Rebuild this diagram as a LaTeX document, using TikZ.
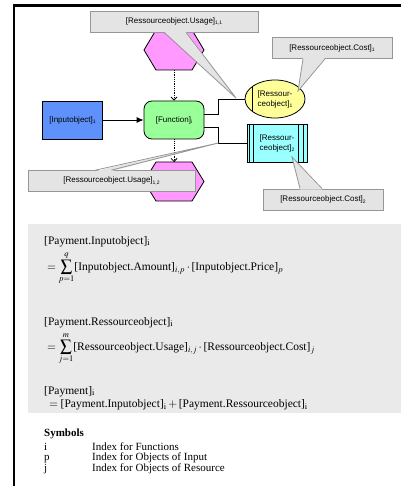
\documentclass[tikz,border=0pt]{standalone}
\usepackage{amsmath}
\usepackage{mathptmx}
\usepackage[no-math]{fontspec}
\setmainfont{Liberation Serif}
\newfontfamily\diafont{Liberation Sans}
\usetikzlibrary{positioning,calc,arrows.meta,shapes.geometric}
\definecolor{fnGreen}{RGB}{153,255,153}
\definecolor{inBlue}{RGB}{95,145,250}
\definecolor{resYellow}{RGB}{255,255,153}
\definecolor{resCyan}{RGB}{153,255,255}
\definecolor{usePink}{RGB}{255,153,255}
\definecolor{noteGray}{RGB}{228,228,228}
\definecolor{noteLine}{RGB}{150,150,150}
\definecolor{panelGray}{RGB}{234,234,234}
\newcommand\dsub[1]{\raisebox{-0.35ex}{\fontsize{5}{5}\selectfont #1}}

\begin{document}
\begin{tikzpicture}[x=1pt,y=-1pt,
  obj/.style={draw, line width=0.8pt, minimum width=60pt, minimum height=38pt,
    inner sep=1pt, align=center, font=\diafont\fontsize{8}{10}\selectfont},
  fnbox/.style={obj, fill=fnGreen, rounded corners=8pt},
  inbox/.style={obj, fill=inBlue},
  resell/.style={obj, ellipse, fill=resYellow, inner sep=0pt},
  resrect/.style={obj, fill=resCyan},
  usehex/.style={draw, line width=0.8pt, fill=usePink},
  link/.style={line width=0.8pt},
  usearr/.style={link, densely dotted, -{Straight Barb[length=3pt,width=6pt]}},
  note/.style={draw=noteLine, fill=noteGray, line width=0.8pt, minimum height=21pt,
    inner sep=2pt, font=\diafont\fontsize{8}{10}\selectfont},
  tip/.style={fill=noteGray},
  tipline/.style={draw=noteLine, line width=0.8pt},
  formula/.style={anchor=base west, inner sep=0pt, font=\fontsize{11.5}{13}\selectfont},
  symtxt/.style={anchor=base west, inner sep=0pt, font=\fontsize{11}{11}\selectfont}]
 \useasboundingbox (0,0) rectangle (401,486);
 \draw[line width=2.5pt] (14,486) -- (14,5.3) -- (401,5.3);
 \fill[panelGray] (28,224) rectangle (401,413);
 %
 \coordinate (u1) at (174,50);
 \coordinate (u2) at (174,181.5);
 \draw[usehex] ($(u1)+(-30,0)$) -- ++(12,-20) -- ++(36,0) -- ++(12,20) -- ++(-12,20) -- ++(-36,0) -- cycle;
 \draw[usehex] ($(u2)+(-30,0)$) -- ++(12,-19.5) -- ++(36,0) -- ++(12,19.5) -- ++(-12,19.5) -- ++(-36,0) -- cycle;
 \coordinate (u1b) at ($(u1)+(0,20)$);
 \coordinate (u2t) at ($(u2)+(0,-19.5)$);
 %
 \node[fnbox] (fn) at (174,120) {[Function]\dsub{i}};
 \node[inbox] (in) at (72.5,120) {[Inputobject]\dsub{1}};
 \node[resell] (res1) at (275,99) {[Ressour-\\ceobject]\dsub{1}};
 \node[resrect] (res2) at (277,143) {[Ressour-\\ceobject]\dsub{2}};
 \draw[link] ($(res1.center)+(-23,-12)$) -- ++(0,24);
 \draw[link] ($(res2.north west)+(3,0)$) -- ($(res2.south west)+(3,0)$);
 \draw[link] ($(res2.north west)+(7,0)$) -- ($(res2.south west)+(7,0)$);
 \draw[link] ($(res2.north east)+(-4,0)$) -- ($(res2.south east)+(-4,0)$);
 \draw[link] ($(res2.north east)+(-9,0)$) -- ($(res2.south east)+(-9,0)$);
 %
 \draw[link, -{Latex[length=7pt,width=6pt]}] (in) -- (fn);
 \draw[usearr] (u1b) -- (fn.north);
 \draw[usearr] (fn.south) -- (u2t);
 \draw[link] ($(fn.east)+(0,-6)$) -- ++(14,0) coordinate (k1) |- (res1.west);
 \draw[link] ($(fn.east)+(0,7)$) -- ++(14,0) |- (res2.west) coordinate[pos=0.5] (k2);
 %
 \node[note, minimum width=168pt] (c11) at (174,21.5) {[Ressourceobject.Usage]\dsub{1,1}};
 \node[note, minimum width=167pt] (c12) at (111.5,181) {[Ressourceobject.Usage]\dsub{1,2}};
 \node[note, minimum width=120pt] (cost1) at (332,48) {[Ressourceobject.Cost]\dsub{1}};
 \node[note, minimum width=120pt] (cost2) at (323,199.5) {[Ressourceobject.Cost]\dsub{2}};
 \coordinate (t11) at (236,98);
 \coordinate (t12) at (k2);
 \coordinate (tc1) at (298,91);
 \coordinate (tc2) at (292,157);
 \fill[tip] ($(c11.south)+(-10,-1)$) -- (t11) -- ($(c11.south)+(12,-1)$) -- cycle;
 \draw[tipline] ($(c11.south)+(-10,0)$) -- (t11) -- ($(c11.south)+(12,0)$);
 \fill[tip] ($(c12.north)+(-16,1)$) -- (t12) -- ($(c12.north)+(0,1)$) -- cycle;
 \draw[tipline] ($(c12.north)+(-16,0)$) -- (t12) -- ($(c12.north)+(0,0)$);
 \fill[tip] ($(cost1.south)+(-29,-1)$) -- (tc1) -- ($(cost1.south)+(-7,-1)$) -- cycle;
 \draw[tipline] ($(cost1.south)+(-29,0)$) -- (tc1) -- ($(cost1.south)+(-7,0)$);
 \fill[tip] ($(cost2.north)+(-23,1)$) -- (tc2) -- ($(cost2.north)+(-1,1)$) -- cycle;
 \draw[tipline] ($(cost2.north)+(-23,0)$) -- (tc2) -- ($(cost2.north)+(-1,0)$);
 %
 \node[formula] (pay1) at (44,244) {[Payment.Inputobject]$_\mathrm{i}$};
 \node[formula] (sum1) at (47,270) {$=\displaystyle\sum_{p=1}^{q}\!\text{[Inputobject.Amount]}_{i,p}\cdot\text{[Inputobject.Price]}_{p}$};
 \node[formula] (pay2) at (44,325) {[Payment.Ressourceobject]$_\mathrm{i}$};
 \node[formula] (sum2) at (47,350) {$=\displaystyle\sum_{j=1}^{m}\!\text{[Ressourceobject.Usage]}_{i,j}\cdot\text{[Ressourceobject.Cost]}_{j}$};
 \node[formula] (pay3) at (44,394) {[Payment]$_\mathrm{i}$};
 \node[formula] (sum3) at (49,407) {$=\text{[Payment.Inputobject]}_\mathrm{i}+\text{[Payment.Ressourceobject]}_\mathrm{i}$};
 \node[symtxt] (sym) at (44,436) {\bfseries Symbols};
 \foreach \k/\d [count=\n] in {i/Index for Functions, p/Index for Objects of Input, j/Index for Objects of Resource} {
   \node[symtxt] (sk\n) at (44,439.5+10.5*\n) {\k};
   \node[symtxt] (sd\n) at (92,439.5+10.5*\n) {\d};
 }
\end{tikzpicture}
\end{document}
